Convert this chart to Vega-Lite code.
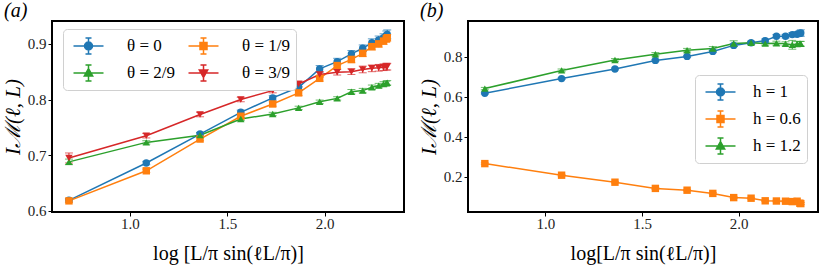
{
  "$schema": "https://vega.github.io/schema/vega-lite/v6.json",
  "background": "white",
  "padding": {"left": 1, "top": 0, "right": 5, "bottom": 3},
  "spacing": 12,
  "config": {
    "font": "Liberation Serif",
    "view": {"stroke": "black", "strokeWidth": 2},
    "axis": {
      "grid": false, "domain": false, "ticks": true, "tickColor": "black", "tickSize": 4, "tickWidth": 1,
      "labelFont": "Liberation Serif", "labelFontSize": 15, "labelColor": "#222", "labelPadding": 2,
      "titleFont": "Liberation Serif", "titleFontSize": 21, "titleFontWeight": "normal", "titleColor": "black"
    },
    "axisX": {"labelPadding": 0, "titleFontSize": 20},
    "legend": {
      "labelFont": "Liberation Serif", "labelFontSize": 17, "labelFontWeight": "normal", "labelColor": "black", "labelAlign": "left",
      "fillColor": "white", "strokeColor": "#d0d0d0", "cornerRadius": 4, "padding": 6,
      "symbolSize": 400, "labelOffset": 30, "rowPadding": 5, "columnPadding": 8, "titlePadding": 0
    },
    "title": {"font": "Liberation Serif", "fontSize": 20, "fontWeight": "normal", "fontStyle": "italic", "anchor": "start", "frame": "group", "color": "black"}
  },
  "datasets": {
    "a": [
      {"series": "θ = 0", "x": 0.687, "y": 0.619, "err": 0.003},
      {"series": "θ = 0", "x": 1.084, "y": 0.686, "err": 0.003},
      {"series": "θ = 0", "x": 1.360, "y": 0.738, "err": 0.003},
      {"series": "θ = 0", "x": 1.569, "y": 0.777, "err": 0.004},
      {"series": "θ = 0", "x": 1.733, "y": 0.803, "err": 0.004},
      {"series": "θ = 0", "x": 1.866, "y": 0.822, "err": 0.005},
      {"series": "θ = 0", "x": 1.974, "y": 0.855, "err": 0.006},
      {"series": "θ = 0", "x": 2.064, "y": 0.868, "err": 0.006},
      {"series": "θ = 0", "x": 2.137, "y": 0.882, "err": 0.006},
      {"series": "θ = 0", "x": 2.195, "y": 0.892, "err": 0.006},
      {"series": "θ = 0", "x": 2.242, "y": 0.902, "err": 0.007},
      {"series": "θ = 0", "x": 2.277, "y": 0.907, "err": 0.007},
      {"series": "θ = 0", "x": 2.302, "y": 0.911, "err": 0.007},
      {"series": "θ = 0", "x": 2.316, "y": 0.915, "err": 0.008},
      {"series": "θ = 0", "x": 2.321, "y": 0.917, "err": 0.008},
      {"series": "θ = 1/9", "x": 0.687, "y": 0.618, "err": 0.003},
      {"series": "θ = 1/9", "x": 1.084, "y": 0.672, "err": 0.003},
      {"series": "θ = 1/9", "x": 1.360, "y": 0.729, "err": 0.003},
      {"series": "θ = 1/9", "x": 1.569, "y": 0.770, "err": 0.004},
      {"series": "θ = 1/9", "x": 1.733, "y": 0.792, "err": 0.004},
      {"series": "θ = 1/9", "x": 1.866, "y": 0.812, "err": 0.005},
      {"series": "θ = 1/9", "x": 1.974, "y": 0.838, "err": 0.005},
      {"series": "θ = 1/9", "x": 2.064, "y": 0.861, "err": 0.005},
      {"series": "θ = 1/9", "x": 2.137, "y": 0.872, "err": 0.006},
      {"series": "θ = 1/9", "x": 2.195, "y": 0.883, "err": 0.006},
      {"series": "θ = 1/9", "x": 2.242, "y": 0.895, "err": 0.006},
      {"series": "θ = 1/9", "x": 2.277, "y": 0.900, "err": 0.006},
      {"series": "θ = 1/9", "x": 2.302, "y": 0.905, "err": 0.006},
      {"series": "θ = 1/9", "x": 2.316, "y": 0.909, "err": 0.006},
      {"series": "θ = 1/9", "x": 2.321, "y": 0.911, "err": 0.006},
      {"series": "θ = 2/9", "x": 0.687, "y": 0.688, "err": 0.005},
      {"series": "θ = 2/9", "x": 1.084, "y": 0.723, "err": 0.003},
      {"series": "θ = 2/9", "x": 1.360, "y": 0.736, "err": 0.004},
      {"series": "θ = 2/9", "x": 1.569, "y": 0.765, "err": 0.003},
      {"series": "θ = 2/9", "x": 1.733, "y": 0.774, "err": 0.003},
      {"series": "θ = 2/9", "x": 1.866, "y": 0.785, "err": 0.003},
      {"series": "θ = 2/9", "x": 1.974, "y": 0.796, "err": 0.003},
      {"series": "θ = 2/9", "x": 2.064, "y": 0.802, "err": 0.003},
      {"series": "θ = 2/9", "x": 2.137, "y": 0.814, "err": 0.004},
      {"series": "θ = 2/9", "x": 2.195, "y": 0.816, "err": 0.004},
      {"series": "θ = 2/9", "x": 2.242, "y": 0.822, "err": 0.004},
      {"series": "θ = 2/9", "x": 2.277, "y": 0.825, "err": 0.004},
      {"series": "θ = 2/9", "x": 2.302, "y": 0.828, "err": 0.004},
      {"series": "θ = 2/9", "x": 2.316, "y": 0.829, "err": 0.004},
      {"series": "θ = 2/9", "x": 2.321, "y": 0.830, "err": 0.004},
      {"series": "θ = 3/9", "x": 0.687, "y": 0.695, "err": 0.009},
      {"series": "θ = 3/9", "x": 1.084, "y": 0.735, "err": 0.004},
      {"series": "θ = 3/9", "x": 1.360, "y": 0.773, "err": 0.004},
      {"series": "θ = 3/9", "x": 1.569, "y": 0.800, "err": 0.004},
      {"series": "θ = 3/9", "x": 1.733, "y": 0.816, "err": 0.004},
      {"series": "θ = 3/9", "x": 1.866, "y": 0.828, "err": 0.005},
      {"series": "θ = 3/9", "x": 1.974, "y": 0.845, "err": 0.005},
      {"series": "θ = 3/9", "x": 2.064, "y": 0.849, "err": 0.005},
      {"series": "θ = 3/9", "x": 2.137, "y": 0.850, "err": 0.005},
      {"series": "θ = 3/9", "x": 2.195, "y": 0.854, "err": 0.006},
      {"series": "θ = 3/9", "x": 2.242, "y": 0.856, "err": 0.006},
      {"series": "θ = 3/9", "x": 2.277, "y": 0.857, "err": 0.006},
      {"series": "θ = 3/9", "x": 2.302, "y": 0.858, "err": 0.006},
      {"series": "θ = 3/9", "x": 2.316, "y": 0.859, "err": 0.006},
      {"series": "θ = 3/9", "x": 2.321, "y": 0.859, "err": 0.006}
    ],
    "b": [
      {"series": "h = 1", "x": 0.687, "y": 0.618, "err": 0.004},
      {"series": "h = 1", "x": 1.084, "y": 0.691, "err": 0.004},
      {"series": "h = 1", "x": 1.360, "y": 0.739, "err": 0.004},
      {"series": "h = 1", "x": 1.569, "y": 0.782, "err": 0.005},
      {"series": "h = 1", "x": 1.733, "y": 0.802, "err": 0.005},
      {"series": "h = 1", "x": 1.866, "y": 0.827, "err": 0.006},
      {"series": "h = 1", "x": 1.974, "y": 0.857, "err": 0.006},
      {"series": "h = 1", "x": 2.064, "y": 0.870, "err": 0.007},
      {"series": "h = 1", "x": 2.137, "y": 0.881, "err": 0.008},
      {"series": "h = 1", "x": 2.195, "y": 0.903, "err": 0.008},
      {"series": "h = 1", "x": 2.242, "y": 0.903, "err": 0.009},
      {"series": "h = 1", "x": 2.277, "y": 0.911, "err": 0.010},
      {"series": "h = 1", "x": 2.302, "y": 0.913, "err": 0.012},
      {"series": "h = 1", "x": 2.316, "y": 0.917, "err": 0.013},
      {"series": "h = 1", "x": 2.321, "y": 0.919, "err": 0.016},
      {"series": "h = 0.6", "x": 0.687, "y": 0.266, "err": 0.004},
      {"series": "h = 0.6", "x": 1.084, "y": 0.208, "err": 0.004},
      {"series": "h = 0.6", "x": 1.360, "y": 0.173, "err": 0.004},
      {"series": "h = 0.6", "x": 1.569, "y": 0.142, "err": 0.004},
      {"series": "h = 0.6", "x": 1.733, "y": 0.133, "err": 0.004},
      {"series": "h = 0.6", "x": 1.866, "y": 0.117, "err": 0.004},
      {"series": "h = 0.6", "x": 1.974, "y": 0.096, "err": 0.004},
      {"series": "h = 0.6", "x": 2.064, "y": 0.093, "err": 0.004},
      {"series": "h = 0.6", "x": 2.137, "y": 0.080, "err": 0.004},
      {"series": "h = 0.6", "x": 2.195, "y": 0.079, "err": 0.004},
      {"series": "h = 0.6", "x": 2.242, "y": 0.078, "err": 0.004},
      {"series": "h = 0.6", "x": 2.277, "y": 0.076, "err": 0.004},
      {"series": "h = 0.6", "x": 2.302, "y": 0.078, "err": 0.004},
      {"series": "h = 0.6", "x": 2.316, "y": 0.068, "err": 0.005},
      {"series": "h = 0.6", "x": 2.321, "y": 0.066, "err": 0.005},
      {"series": "h = 1.2", "x": 0.687, "y": 0.641, "err": 0.006},
      {"series": "h = 1.2", "x": 1.084, "y": 0.732, "err": 0.007},
      {"series": "h = 1.2", "x": 1.360, "y": 0.784, "err": 0.007},
      {"series": "h = 1.2", "x": 1.569, "y": 0.813, "err": 0.008},
      {"series": "h = 1.2", "x": 1.733, "y": 0.833, "err": 0.009},
      {"series": "h = 1.2", "x": 1.866, "y": 0.841, "err": 0.010},
      {"series": "h = 1.2", "x": 1.974, "y": 0.866, "err": 0.014},
      {"series": "h = 1.2", "x": 2.064, "y": 0.870, "err": 0.008},
      {"series": "h = 1.2", "x": 2.137, "y": 0.866, "err": 0.008},
      {"series": "h = 1.2", "x": 2.195, "y": 0.868, "err": 0.010},
      {"series": "h = 1.2", "x": 2.242, "y": 0.865, "err": 0.010},
      {"series": "h = 1.2", "x": 2.277, "y": 0.860, "err": 0.022},
      {"series": "h = 1.2", "x": 2.302, "y": 0.864, "err": 0.012},
      {"series": "h = 1.2", "x": 2.316, "y": 0.865, "err": 0.012},
      {"series": "h = 1.2", "x": 2.321, "y": 0.865, "err": 0.012}
    ]
  },
  "resolve": {"scale": {"x": "independent", "y": "independent", "color": "independent"}, "legend": {"color": "independent"}},
  "hconcat": [
    {
      "width": 352,
      "height": 191,
      "title": {"text": "(a)", "dx": -48, "offset": 0},
      "data": {"name": "a"},
      "encoding": {
        "x": {"field": "x", "type": "quantitative", "scale": {"domain": [0.6, 2.407], "nice": false, "zero": false},
              "axis": {"values": [1.0, 1.5, 2.0], "format": ".1f", "title": "log [L/π sin(ℓL/π)]", "titlePadding": 12}},
        "y": {"field": "y", "type": "quantitative", "scale": {"domain": [0.598, 0.941], "nice": false, "zero": false},
              "axis": {"values": [0.6, 0.7, 0.8, 0.9], "format": ".1f", "title": "Iℳ(ℓ, L)", "titleFontStyle": "italic", "titlePadding": 4}},
        "color": {"field": "series", "type": "nominal",
                  "scale": {"domain": ["θ = 0", "θ = 2/9", "θ = 1/9", "θ = 3/9"], "range": ["#1f77b4", "#2ca02c", "#ff7f0e", "#d62728"]},
                  "legend": {"title": null, "orient": "none", "legendX": 11, "legendY": 8, "columns": 2, "columnPadding": 9, "labelOffset": 36, "labelAlign": "left", "symbolSize": 400,
                    "labelFont": "Liberation Serif", "labelFontWeight": "normal", "labelFontSize": 17,
                    "encode": {"symbols": {"update": {
                      "shape": {"signal": "datum.value === 'θ = 0' ? 'M-0.65,0H2.35M0.85,-0.8V0.8M0.55,-0.8H1.15M0.55,0.8H1.15M0.45,0A0.4,0.4,0,1,1,1.25,0A0.4,0.4,0,1,1,0.45,0Z' : datum.value === 'θ = 1/9' ? 'M-0.65,0H2.35M0.85,-0.8V0.8M0.55,-0.8H1.15M0.55,0.8H1.15M0.5,-0.35H1.2V0.35H0.5Z' : datum.value === 'θ = 2/9' ? 'M-0.65,0H2.35M0.85,-0.8V0.8M0.55,-0.8H1.15M0.55,0.8H1.15M0.85,-0.45L1.27,0.3L0.43,0.3Z' : 'M-0.65,0H2.35M0.85,-0.8V0.8M0.55,-0.8H1.15M0.55,0.8H1.15M0.85,0.45L1.27,-0.3L0.43,-0.3Z'"},
                      "fill": {"signal": "datum.value === 'θ = 0' ? '#1f77b4' : datum.value === 'θ = 1/9' ? '#ff7f0e' : datum.value === 'θ = 2/9' ? '#2ca02c' : '#d62728'"},
                      "stroke": {"signal": "datum.value === 'θ = 0' ? '#1f77b4' : datum.value === 'θ = 1/9' ? '#ff7f0e' : datum.value === 'θ = 2/9' ? '#2ca02c' : '#d62728'"},
                      "strokeWidth": {"value": 1.5},
                      "opacity": {"value": 1},
                      "fillOpacity": {"value": 1},
                      "size": {"value": 400}
                    }}}}}
      },
      "layer": [
        {"mark": {"type": "line", "strokeWidth": 1.5}},
        {"mark": {"type": "errorbar", "ticks": {"size": 8, "thickness": 1}, "thickness": 1}, "encoding": {"yError": {"field": "err"}}},
        {"mark": {"type": "point", "filled": true, "opacity": 1, "size": 55},
         "encoding": {"shape": {"condition": [
           {"test": "datum.series === 'θ = 1/9'", "value": "square"},
           {"test": "datum.series === 'θ = 2/9'", "value": "triangle-up"},
           {"test": "datum.series === 'θ = 3/9'", "value": "triangle-down"}], "value": "circle"}}}
      ]
    },
    {
      "width": 350,
      "height": 191,
      "title": {"text": "(b)", "dx": -48, "offset": 0},
      "data": {"name": "b"},
      "encoding": {
        "x": {"field": "x", "type": "quantitative", "scale": {"domain": [0.6, 2.41], "nice": false, "zero": false},
              "axis": {"values": [1.0, 1.5, 2.0], "format": ".1f", "title": "log[L/π sin(ℓL/π)]", "titlePadding": 12}},
        "y": {"field": "y", "type": "quantitative", "scale": {"domain": [0.024, 0.979], "nice": false, "zero": false},
              "axis": {"values": [0.2, 0.4, 0.6, 0.8], "format": ".1f", "title": "Iℳ(ℓ, L)", "titleFontStyle": "italic", "titlePadding": 4}},
        "color": {"field": "series", "type": "nominal",
                  "scale": {"domain": ["h = 1", "h = 0.6", "h = 1.2"], "range": ["#1f77b4", "#ff7f0e", "#2ca02c"]},
                  "legend": {"title": null, "orient": "none", "legendX": 227, "legendY": 54, "symbolSize": 400, "labelAlign": "left",
                    "labelFont": "Liberation Serif", "labelFontWeight": "normal", "labelFontSize": 17,
                    "encode": {"symbols": {"update": {
                      "shape": {"signal": "datum.value === 'h = 1' ? 'M-0.65,0H2.35M0.85,-0.8V0.8M0.55,-0.8H1.15M0.55,0.8H1.15M0.45,0A0.4,0.4,0,1,1,1.25,0A0.4,0.4,0,1,1,0.45,0Z' : datum.value === 'h = 0.6' ? 'M-0.65,0H2.35M0.85,-0.8V0.8M0.55,-0.8H1.15M0.55,0.8H1.15M0.5,-0.35H1.2V0.35H0.5Z' : 'M-0.65,0H2.35M0.85,-0.8V0.8M0.55,-0.8H1.15M0.55,0.8H1.15M0.85,-0.45L1.27,0.3L0.43,0.3Z'"},
                      "fill": {"signal": "datum.value === 'h = 1' ? '#1f77b4' : datum.value === 'h = 0.6' ? '#ff7f0e' : '#2ca02c'"},
                      "stroke": {"signal": "datum.value === 'h = 1' ? '#1f77b4' : datum.value === 'h = 0.6' ? '#ff7f0e' : '#2ca02c'"},
                      "strokeWidth": {"value": 1.5},
                      "opacity": {"value": 1},
                      "fillOpacity": {"value": 1},
                      "size": {"value": 400}
                    }}}}}
      },
      "layer": [
        {"mark": {"type": "line", "strokeWidth": 1.5}},
        {"mark": {"type": "errorbar", "ticks": {"size": 8, "thickness": 1}, "thickness": 1}, "encoding": {"yError": {"field": "err"}}},
        {"mark": {"type": "point", "filled": true, "opacity": 1, "size": 55},
         "encoding": {"shape": {"condition": [
           {"test": "datum.series === 'h = 0.6'", "value": "square"},
           {"test": "datum.series === 'h = 1.2'", "value": "triangle-up"}], "value": "circle"}}}
      ]
    }
  ]
}
